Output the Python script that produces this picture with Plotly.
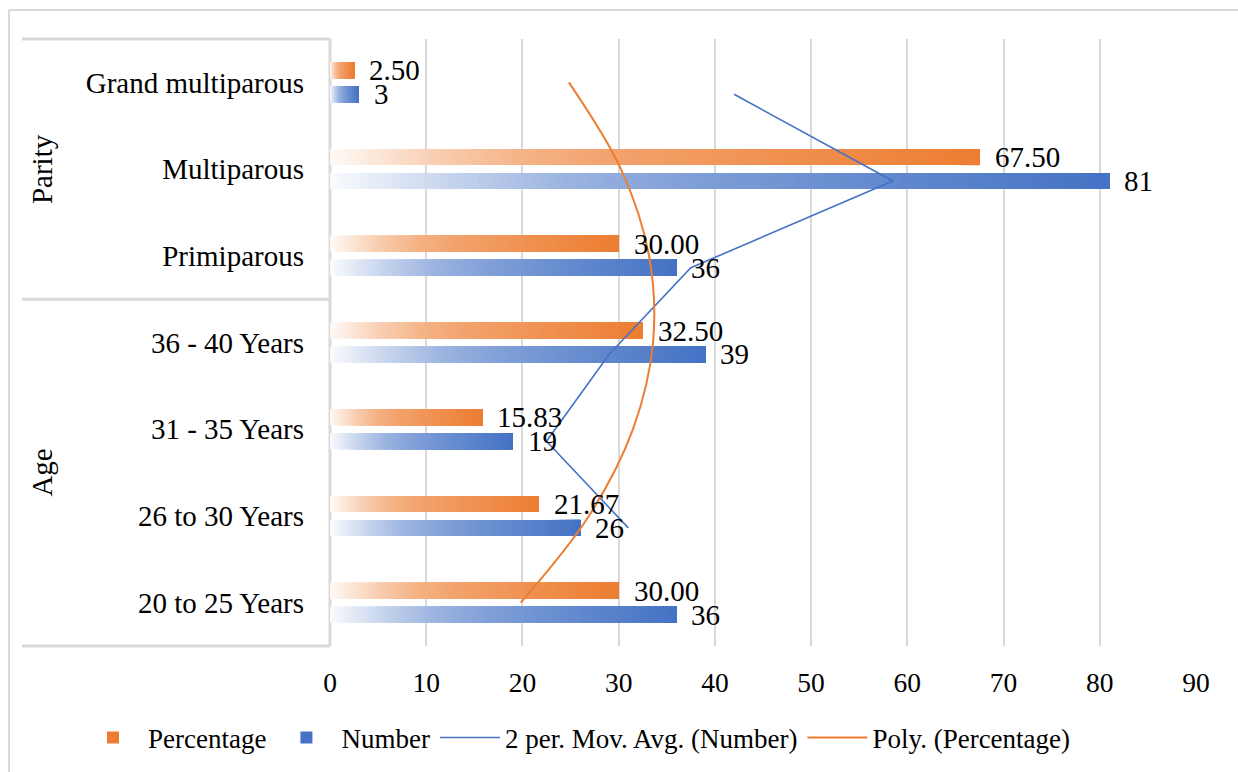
import numpy as np
import pandas as pd
import plotly.graph_objects as go

# ---------------- data ----------------
groups = ["Age", "Age", "Age", "Age", "Parity", "Parity", "Parity"]
categories = ["20 to 25 Years", "26 to 30 Years", "31 - 35 Years", "36 - 40 Years",
              "Primiparous", "Multiparous", "Grand multiparous"]
percentage = [30.00, 21.67, 15.83, 32.50, 30.00, 67.50, 2.50]
number = [36, 26, 19, 39, 36, 81, 3]
x_ticks = [0, 10, 20, 30, 40, 50, 60, 70, 80, 90]

# ---------------- style ----------------
FONT = "Liberation Serif"
ORANGE = (237, 125, 49)
BLUE = (68, 114, 196)
GRID = "#d9d9d9"
BAR_W = 0.184
GAP = 0.046
N_SEG = 100
STOP_X = [0, 0.15, 0.3, 0.45, 0.6, 1.0]
STOP_ORANGE = [0.04, 0.35, 0.59, 0.72, 0.80, 1.0]
STOP_BLUE = [0.03, 0.30, 0.53, 0.67, 0.77, 1.0]

W, H = 1238, 772
ML, MR, MT, MB = 330, 42, 39, 126
PW, PH = W - ML - MR, H - MT - MB


def px_x(px):
    return (px - ML) / PW


def px_y(py):
    return 1 - (py - MT) / PH


def tint(rgb, t):
    return "rgb(%d,%d,%d)" % tuple(round(255 + (c - 255) * t) for c in rgb)


pos = np.arange(len(categories))
pct_center = pos + GAP + BAR_W / 2
num_center = pos - GAP - BAR_W / 2

fig = go.Figure()


def add_series(vals, rgb, stops, offset, name, rank):
    v = np.asarray(vals, dtype=float)
    for i in range(N_SEG):
        f0 = i / N_SEG
        t = float(np.interp((i + 0.5) / N_SEG, STOP_X, stops))
        fig.add_trace(go.Bar(
            orientation="h", y=pos, x=v * (1 - f0), base=v * f0,
            width=BAR_W, offset=offset,
            marker=dict(color=tint(rgb, t), line=dict(width=0)),
            name=name, showlegend=(i == N_SEG - 1), legendrank=rank,
            hoverinfo="skip",
        ))


add_series(percentage, ORANGE, STOP_ORANGE, GAP, "Percentage", 1)
add_series(number, BLUE, STOP_BLUE, -GAP - BAR_W, "Number", 2)

# 2-period moving average of Number
ma = pd.Series(number, dtype=float).rolling(2).mean()
fig.add_trace(go.Scatter(
    x=ma[1:], y=num_center[1:], mode="lines",
    line=dict(color="rgb(68,114,196)", width=1.6),
    name="2 per. Mov. Avg. (Number)", legendrank=3, hoverinfo="skip",
))

# polynomial (order 2) trendline of Percentage
coef = np.polyfit(pos, percentage, 2)
poly = np.polyval(coef, pos)
fig.add_trace(go.Scatter(
    x=poly, y=pos, mode="lines", line_shape="spline",
    line=dict(color="rgb(237,125,49)", width=2),
    name="Poly. (Percentage)", legendrank=4, hoverinfo="skip",
))

# data labels
annotations = []
for c, v in zip(pct_center, percentage):
    annotations.append(dict(x=v, y=c, xref="x", yref="y", text=f"{v:.2f}",
                            showarrow=False, xanchor="left", xshift=13,
                            font=dict(family=FONT, size=29, color="black")))
for c, v in zip(num_center, number):
    annotations.append(dict(x=v, y=c, xref="x", yref="y", text=f"{v}",
                            showarrow=False, xanchor="left", xshift=13,
                            font=dict(family=FONT, size=29, color="black")))

# group labels
for g in dict.fromkeys(groups):
    idx = [i for i, gg in enumerate(groups) if gg == g]
    annotations.append(dict(x=px_x(42), y=float(np.mean(idx)), xref="paper", yref="y",
                            text=g, textangle=-90, showarrow=False,
                            xanchor="center", yanchor="middle",
                            font=dict(family=FONT, size=29, color="black")))

# category box and outer frame
n = len(categories)
shapes = []
boundaries = [-0.5, n - 0.5] + [i + 0.5 for i in range(n - 1) if groups[i] != groups[i + 1]]
for b in boundaries:
    yp = (b + 0.5) / n
    shapes.append(dict(type="line", xref="paper", yref="paper", x0=px_x(22), x1=0,
                       y0=yp, y1=yp, line=dict(color=GRID, width=3), layer="above"))
shapes.append(dict(type="line", xref="paper", yref="paper", x0=0, x1=0, y0=0, y1=1,
                   line=dict(color=GRID, width=3), layer="below"))
shapes.append(dict(type="line", xref="paper", yref="paper", x0=px_x(9), x1=px_x(1260),
                   y0=px_y(10), y1=px_y(10), line=dict(color=GRID, width=2)))
shapes.append(dict(type="line", xref="paper", yref="paper", x0=px_x(9), x1=px_x(9),
                   y0=px_y(10), y1=px_y(800), line=dict(color=GRID, width=2)))

fig.update_layout(
    width=W, height=H,
    margin=dict(l=ML, r=MR, t=MT, b=MB, autoexpand=False),
    paper_bgcolor="white", plot_bgcolor="white",
    barmode="overlay",
    font=dict(family=FONT, size=27, color="black"),
    showlegend=True,
    legend=dict(orientation="h", x=px_x(78), xanchor="left",
                y=px_y(738), yanchor="middle",
                font=dict(family=FONT, size=27, color="black"),
                bgcolor="rgba(0,0,0,0)", itemwidth=60, tracegroupgap=0),
    xaxis=dict(range=[0, 90], tickvals=x_ticks, showgrid=True, gridcolor=GRID,
               gridwidth=2, zeroline=False, showline=False, ticks="",
               tickfont=dict(family=FONT, size=27.5, color="black"),
               ticklabelstandoff=17, fixedrange=True),
    yaxis=dict(range=[-0.5, n - 0.5], tickvals=pos, ticktext=categories,
               showgrid=False, zeroline=False, showline=False, ticks="",
               tickfont=dict(family=FONT, size=29, color="black"),
               ticklabelstandoff=25, fixedrange=True),
    annotations=annotations,
    shapes=shapes,
    hovermode=False,
)

fig.write_html("out.html", config={"displayModeBar": False},
               post_script="document.body.style.margin='0';")
